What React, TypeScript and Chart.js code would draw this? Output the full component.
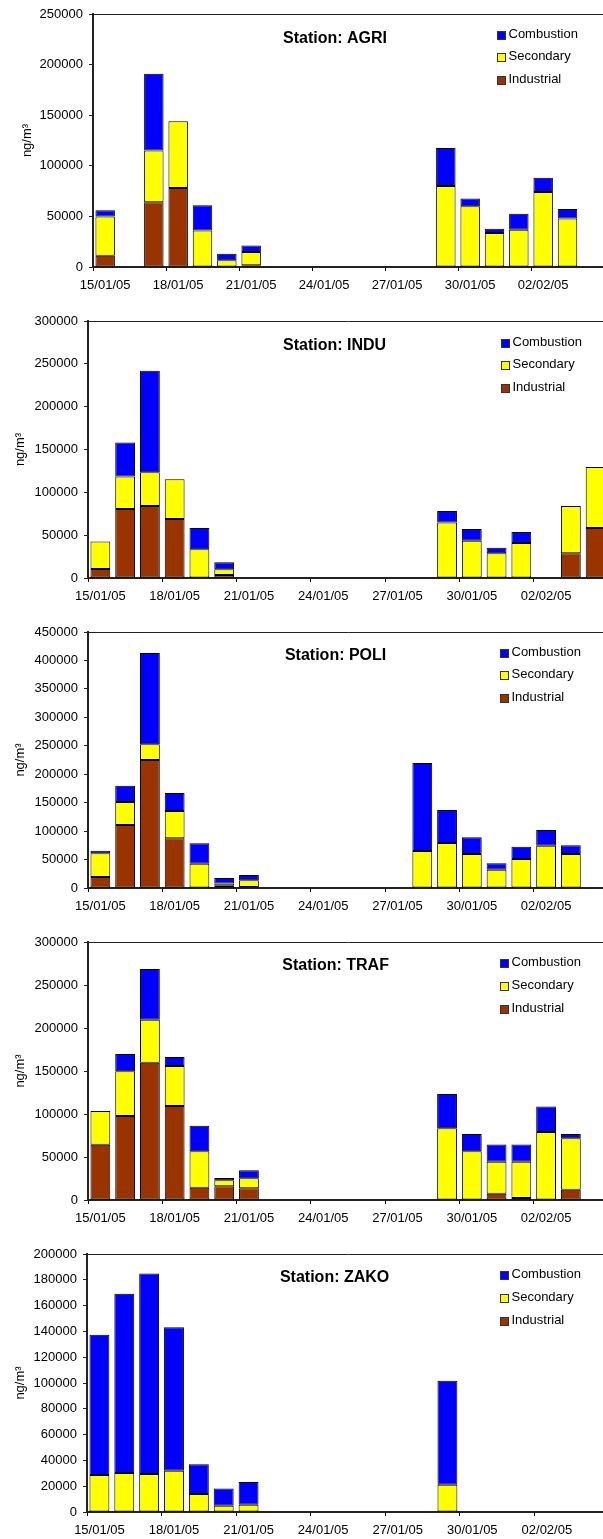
import React, { useEffect, useRef } from 'react';
import { Chart, registerables } from 'chart.js';

Chart.register(...registerables);

// ---------- data ----------
const dayLabels = [
  '15/01/05', '16/01/05', '17/01/05', '18/01/05', '19/01/05', '20/01/05', '21/01/05',
  '22/01/05', '23/01/05', '24/01/05', '25/01/05', '26/01/05', '27/01/05', '28/01/05',
  '29/01/05', '30/01/05', '31/01/05', '01/02/05', '02/02/05', '03/02/05', '04/02/05',
];

const seriesNames = ['Industrial', 'Secondary', 'Combustion'];
const seriesColors = ['#993300', '#FFFF00', '#0000FF'];

const agriIndustrial = [11000, 0, 64000, 78000, 0, 0, 1700, 0, 0, 0, 0, 0, 0, 0, 0, 0, 0, 0, 0, 0, 0];
const agriSecondary = [39000, 0, 51000, 66000, 36000, 6600, 13000, 0, 0, 0, 0, 0, 0, 0, 80000, 60000, 33700, 36700, 74000, 48000, 0];
const agriCombustion = [6000, 0, 76000, 0, 25000, 6600, 6600, 0, 0, 0, 0, 0, 0, 0, 37500, 7600, 4000, 15800, 14200, 9200, 0];

const induIndustrial = [10500, 80600, 84000, 69000, 0, 3500, 0, 0, 0, 0, 0, 0, 0, 0, 0, 0, 0, 0, 0, 28800, 58400];
const induSecondary = [32000, 37800, 39500, 46300, 33500, 6600, 0, 0, 0, 0, 0, 0, 0, 0, 64700, 43600, 28800, 41000, 0, 55300, 71300];
const induCombustion = [0, 39700, 118500, 0, 25000, 8200, 0, 0, 0, 0, 0, 0, 0, 0, 13600, 13600, 6600, 12800, 0, 0, 0];

const poliIndustrial = [19300, 110700, 225000, 87300, 0, 4000, 1800, 0, 0, 0, 0, 0, 0, 0, 0, 0, 0, 0, 0, 0, 0];
const poliSecondary = [41600, 40400, 27500, 48000, 42800, 4100, 11700, 0, 0, 0, 0, 0, 0, 65000, 79100, 59800, 32200, 51000, 74400, 59800, 0];
const poliCombustion = [4700, 28700, 160500, 31600, 35700, 9400, 9400, 0, 0, 0, 0, 0, 0, 154700, 58000, 29300, 11100, 21700, 27500, 15200, 0];

const trafIndustrial = [64300, 97700, 159700, 109300, 14300, 15900, 13600, 0, 0, 0, 0, 0, 0, 0, 0, 0, 7400, 2300, 0, 12000, 0];
const trafSecondary = [39200, 51900, 50000, 46500, 42300, 7000, 11600, 0, 0, 0, 0, 0, 0, 0, 83300, 56600, 37200, 42300, 79100, 59700, 0];
const trafCombustion = [0, 20200, 58900, 10500, 29800, 2700, 9300, 0, 0, 0, 0, 0, 0, 0, 39900, 20200, 19800, 19800, 29500, 5000, 0];

const zakoIndustrial = [0, 0, 0, 0, 0, 0, 0, 0, 0, 0, 0, 0, 0, 0, 0, 0, 0, 0, 0, 0, 0];
const zakoSecondary = [28700, 30200, 29500, 32000, 14000, 4900, 5700, 0, 0, 0, 0, 0, 0, 0, 21200, 0, 0, 0, 0, 0, 0];
const zakoCombustion = [108800, 139000, 155300, 111200, 23000, 13400, 17600, 0, 0, 0, 0, 0, 0, 0, 80600, 0, 0, 0, 0, 0, 0];

const stationNames = ['AGRI', 'INDU', 'POLI', 'TRAF', 'ZAKO'];
const yAxisMax = [250000, 300000, 450000, 300000, 200000];
const yAxisStep = [50000, 50000, 50000, 50000, 20000];
const yAxisTitle = 'ng/m³';

// ---------- layout ----------
type Layout = {
  top: number; height: number; width: number; plotLeft: number; plotTop: number; xAxisH: number;
  yTitlePad: number; titleX: number; titleY: number; legendX: number; legendY: number;
};

const layouts: Layout[] = [
  { top: 0, height: 300, width: 604, plotLeft: 93, plotTop: 14, xAxisH: 33, yTitlePad: 20, titleX: 335, titleY: 38.5, legendX: 497, legendY: 30.7 },
  { top: 300, height: 310, width: 608, plotLeft: 88, plotTop: 21, xAxisH: 32, yTitlePad: 12.7, titleX: 334.6, titleY: 45.2, legendX: 501, legendY: 38.7 },
  { top: 610, height: 310, width: 608, plotLeft: 88, plotTop: 22, xAxisH: 32, yTitlePad: 12.7, titleX: 335.6, titleY: 45.2, legendX: 500, legendY: 38.7 },
  { top: 920, height: 310, width: 608, plotLeft: 88, plotTop: 22, xAxisH: 30, yTitlePad: 12.7, titleX: 335.6, titleY: 45.2, legendX: 500, legendY: 39.3 },
  { top: 1230, height: 309, width: 609, plotLeft: 87, plotTop: 24, xAxisH: 27, yTitlePad: 12.7, titleX: 334.6, titleY: 47.5, legendX: 500, legendY: 41.3 },
];

const stationSeries = [
  [agriIndustrial, agriSecondary, agriCombustion],
  [induIndustrial, induSecondary, induCombustion],
  [poliIndustrial, poliSecondary, poliCombustion],
  [trafIndustrial, trafSecondary, trafCombustion],
  [zakoIndustrial, zakoSecondary, zakoCombustion],
];

const FONT = '"Liberation Sans", Arial, Helvetica, sans-serif';

const decoPlugin = {
  id: 'deco',
  afterDraw(chart: any, _args: any, opts: any) {
    const ctx = chart.ctx as CanvasRenderingContext2D;
    ctx.save();
    ctx.fillStyle = '#000';
    ctx.font = `bold 16px ${FONT}`;
    ctx.textAlign = 'center';
    ctx.textBaseline = 'middle';
    ctx.fillText(opts.title, opts.titleX, opts.titleY);

    ctx.font = `13px ${FONT}`;
    ctx.textAlign = 'left';
    const ds = chart.data.datasets.slice().reverse();
    ds.forEach((d: any, i: number) => {
      const y = Math.round(opts.legendY + i * 22.7);
      const x = Math.round(opts.legendX);
      ctx.fillStyle = d.backgroundColor;
      ctx.fillRect(x, y, 9, 9);
      ctx.strokeStyle = '#333';
      ctx.lineWidth = 1;
      ctx.strokeRect(x + 0.5, y + 0.5, 8, 8);
      ctx.fillStyle = '#000';
      ctx.fillText(d.label, x + 11.5, y + 3.5);
    });
    ctx.restore();
  },
};

function StationChart({ index }: { index: number }) {
  const ref = useRef<HTMLCanvasElement | null>(null);
  const L = layouts[index];

  useEffect(() => {
    if (!ref.current) return;
    const series = stationSeries[index];
    const yMax = yAxisMax[index];
    const tickCol = (c: any) => (typeof c.index === 'number' && c.index % 3 === 0 ? '#000' : 'rgba(0,0,0,0)');
    const chart = new Chart(ref.current, {
      type: 'bar',
      data: {
        labels: dayLabels,
        datasets: series.map((vals, i) => ({
          label: seriesNames[i],
          data: vals,
          backgroundColor: seriesColors[i],
          borderColor: '#000',
          borderWidth: 1,
          borderSkipped: false,
          barPercentage: 0.8,
          categoryPercentage: 1,
        })),
      },
      options: {
        responsive: false,
        animation: false,
        devicePixelRatio: 1,
        layout: { padding: { top: L.plotTop, left: 0, right: 0, bottom: 0 } },
        plugins: {
          legend: { display: false },
          tooltip: { enabled: false },
          deco: { title: `Station: ${stationNames[index]}`, titleX: L.titleX, titleY: L.titleY, legendX: L.legendX, legendY: L.legendY },
        } as any,
        scales: {
          x: {
            type: 'category',
            stacked: true,
            ticks: {
              autoSkip: false,
              maxRotation: 0,
              minRotation: 0,
              padding: 7,
              color: '#000',
              font: { family: FONT, size: 13 },
              callback: (_v: any, i: number) => (i % 3 === 0 ? dayLabels[i] : ''),
            },
            grid: { drawOnChartArea: false, drawTicks: true, tickLength: 4, color: tickCol, tickColor: tickCol },
            border: { display: true, color: '#222', width: 2 },
            afterFit: (s: any) => { s.height = L.xAxisH; },
          },
          y: {
            stacked: true,
            min: 0,
            max: yMax,
            ticks: {
              stepSize: yAxisStep[index],
              padding: 6,
              color: '#000',
              font: { family: FONT, size: 13 },
              callback: (v: any) => String(v),
            },
            grid: {
              color: (c: any) => (c.tick && c.tick.value === yMax ? '#222' : 'rgba(0,0,0,0)'),
              tickColor: '#222',
              tickLength: 4,
              lineWidth: 1,
            },
            border: { display: true, color: '#222', width: 2 },
            title: {
              display: true,
              text: yAxisTitle,
              color: '#000',
              font: { family: FONT, size: 13 },
              padding: { top: L.yTitlePad, bottom: 0 },
            },
            afterFit: (s: any) => { s.width = L.plotLeft; },
          },
        },
      } as any,
      plugins: [decoPlugin],
    });
    return () => chart.destroy();
  }, [index]);

  return (
    <canvas
      ref={ref}
      width={L.width}
      height={L.height}
      style={{ position: 'absolute', left: 0, top: L.top, width: L.width, height: L.height }}
    />
  );
}

export default function App() {
  return (
    <div style={{ position: 'absolute', left: 0, top: 0, width: 603, height: 1539, overflow: 'hidden', background: '#fff' }}>
      {stationNames.map((_, i) => (
        <StationChart key={i} index={i} />
      ))}
    </div>
  );
}
